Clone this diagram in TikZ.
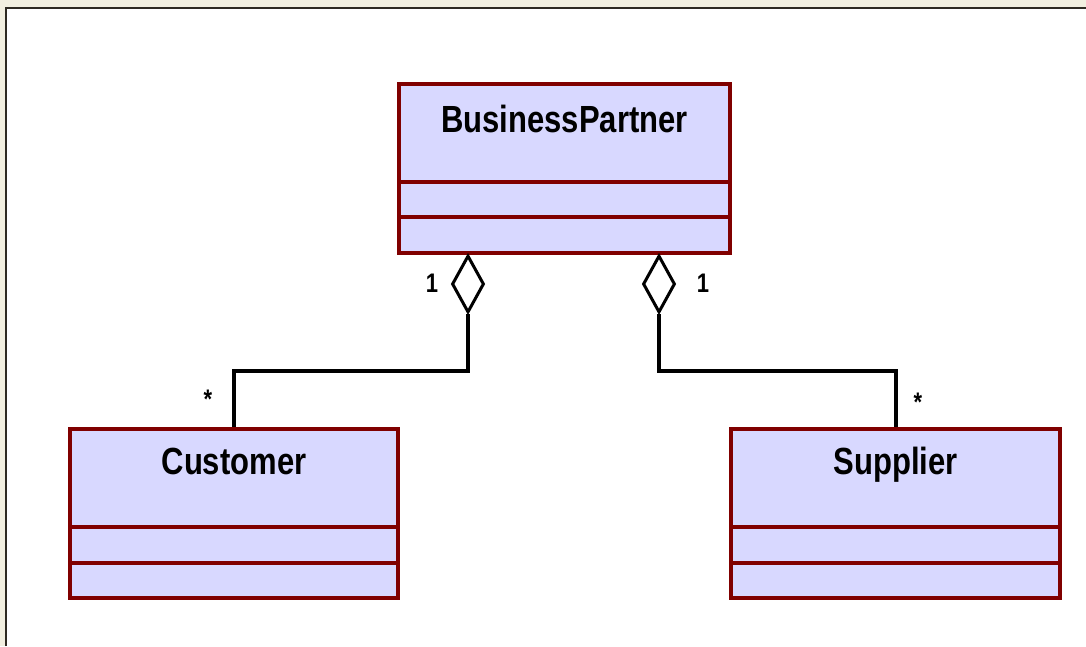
\documentclass[tikz,border=0pt]{standalone}
\usepackage{fontspec}
\usepackage{graphicx}
\setmainfont{Liberation Sans}
\usetikzlibrary{shapes.geometric}
\definecolor{cream}{HTML}{F2EFE0}
\definecolor{framec}{HTML}{2E2A22}
\definecolor{boxfill}{HTML}{D8D8FF}
\definecolor{boxline}{HTML}{800000}
\newcommand{\tallbold}[2]{\scalebox{1}[1.22]{\bfseries\fontsize{#1}{#1}\selectfont #2}}
\tikzset{
  classbox/.style={rectangle, draw=boxline, fill=boxfill, line width=4pt, minimum width=#1, minimum height=169pt, inner sep=0pt, anchor=north},
  divider/.style={draw=boxline, line width=4pt},
  classname/.style={inner sep=0pt, anchor=base},
  mult/.style={inner sep=0pt},
  aggr/.style={diamond, draw=black, fill=white, line width=3pt, minimum width=32pt, minimum height=57pt, inner sep=0pt, anchor=north},
  conn/.style={draw=black, line width=4pt}
}
\begin{document}
\begin{tikzpicture}[x=1pt,y=-1pt]
\useasboundingbox (0,0) rectangle (1086,646);
\fill[cream] (0,0) rectangle (1086,646);
\fill[white] (6,8) rectangle (1086,646);
\draw[framec, line width=2.3pt] (6,646) -- (6,8) -- (1086,8);

% classes
\node[classbox=331pt] (bp) at (564.5,82) {};
\draw[divider] (bp.west |- 0,182) -- (bp.east |- 0,182);
\draw[divider] (bp.west |- 0,217) -- (bp.east |- 0,217);
\node[classname] (bpname) at (564.5,132) {\tallbold{31}{BusinessPartner}};

\node[classbox=328pt] (cust) at (234,427) {};
\draw[divider] (cust.west |- 0,527) -- (cust.east |- 0,527);
\draw[divider] (cust.west |- 0,563) -- (cust.east |- 0,563);
\node[classname] (custname) at (234,474) {\tallbold{31}{Customer}};

\node[classbox=329pt] (supp) at (895.5,427) {};
\draw[divider] (supp.west |- 0,527) -- (supp.east |- 0,527);
\draw[divider] (supp.west |- 0,563) -- (supp.east |- 0,563);
\node[classname] (suppname) at (895.5,474) {\tallbold{31}{Supplier}};

% aggregations
\node[aggr] (d1) at (468,254) {};
\node[aggr] (d2) at (659,254) {};
\coordinate (j1) at (468,371);
\coordinate (j2) at (659,371);
\draw[conn] (d1.south) -- (j1) -| (cust.north);
\draw[conn] (d2.south) -- (j2) -| (supp.north);

% multiplicities
\node[mult, anchor=base] (m1) at (432,292) {\tallbold{22}{1}};
\node[mult, anchor=base] (m2) at (703,292) {\tallbold{22}{1}};
\node[mult] (m3) at (208,399) {\tallbold{22}{*}};
\node[mult] (m4) at (918,402) {\tallbold{22}{*}};
\end{tikzpicture}
\end{document}
